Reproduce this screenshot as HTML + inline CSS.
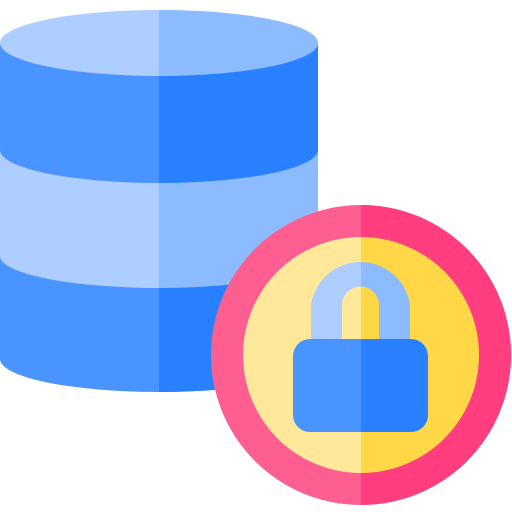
<!DOCTYPE html>
<html><head><style>html,body{margin:0;padding:0;background:#fff}svg{display:block}</style></head>
<body>
<svg width="512" height="512" viewBox="0 0 512 512" xmlns="http://www.w3.org/2000/svg">
<defs>
<clipPath id="rdb"><rect x="159" y="0" width="400" height="512"/></clipPath>
<clipPath id="rc"><rect x="361" y="0" width="200" height="512"/></clipPath>
</defs>
<g id="db">
<path d="M0,255 L0,359 A159,33 0 0 0 318,359 L318,255 Z" fill="#4A94FF"/>
<path d="M0,150 L0,256 A159,32 0 0 0 318,256 L318,150 Z" fill="#ADCEFF"/>
<path d="M0,43 L0,150 A159,33 0 0 0 318,150 L318,43 Z" fill="#4A94FF"/>
<ellipse cx="159" cy="43" rx="159" ry="33" fill="#ADCEFF"/>
</g>
<g clip-path="url(#rdb)">
<path d="M0,255 L0,359 A159,33 0 0 0 318,359 L318,255 Z" fill="#2981FF"/>
<path d="M0,150 L0,256 A159,32 0 0 0 318,256 L318,150 Z" fill="#8CBBFF"/>
<path d="M0,43 L0,150 A159,33 0 0 0 318,150 L318,43 Z" fill="#2981FF"/>
<ellipse cx="159" cy="43" rx="159" ry="33" fill="#8CBBFF"/>
</g>
<g>
<circle cx="361" cy="355" r="150" fill="#FF5F90"/>
<circle cx="361" cy="355" r="118" fill="#FFE89A"/>
<path d="M311,340 L311,305 A50,50 0 0 1 410,305 L410,340 L379,340 L379,305 A18.5,18.5 0 0 0 342,305 L342,340 Z" fill="#ADCEFF"/>
<rect x="293" y="339" width="135" height="93" rx="17" fill="#4A94FF"/>
</g>
<g clip-path="url(#rc)">
<circle cx="361" cy="355" r="150" fill="#FF3D7F"/>
<circle cx="361" cy="355" r="118" fill="#FFD747"/>
<path d="M311,340 L311,305 A50,50 0 0 1 410,305 L410,340 L379,340 L379,305 A18.5,18.5 0 0 0 342,305 L342,340 Z" fill="#8CBBFF"/>
<rect x="293" y="339" width="135" height="93" rx="17" fill="#2981FF"/>
</g>
</svg>
</body></html>
